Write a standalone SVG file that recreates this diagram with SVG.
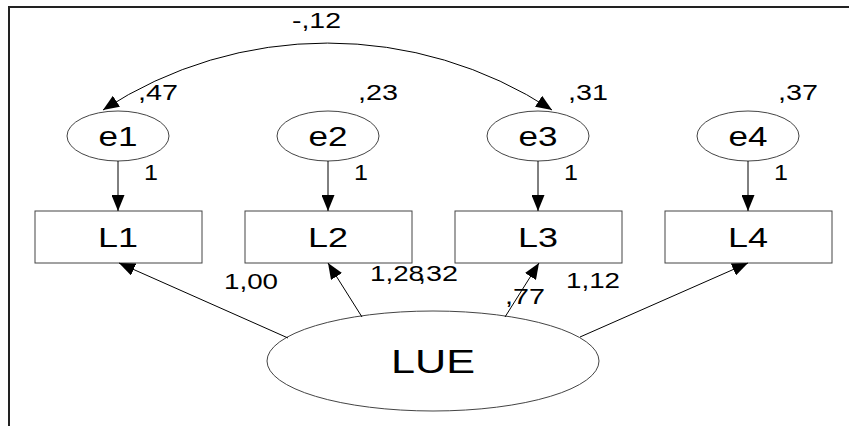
<svg xmlns="http://www.w3.org/2000/svg" width="849" height="426" viewBox="0 0 849 426">
  <defs>
    <marker id="arrow" viewBox="0 0 16 13" refX="16" refY="6.5" markerWidth="16" markerHeight="13" markerUnits="userSpaceOnUse" orient="auto">
      <path d="M0,0 L16,6.5 L0,13 Z" fill="#000"/>
    </marker>
    <marker id="arrowStart" viewBox="0 0 16 13" refX="0" refY="6.5" markerWidth="16" markerHeight="13" markerUnits="userSpaceOnUse" orient="auto">
      <path d="M16,0 L0,6.5 L16,13 Z" fill="#000"/>
    </marker>
  </defs>
  <style>
    .frame { fill: none; stroke: #222; stroke-width: 2; }
    .node { fill: #fff; stroke: #444; stroke-width: 1; }
    .edge { fill: none; stroke: #000; stroke-width: 1; }
    .lbl { font-family: "Liberation Sans", Arial, sans-serif; fill: #000; }
    .name { font-size: 27px; text-anchor: middle; }
    .big { font-size: 34px; text-anchor: middle; }
    .num { font-size: 22px; }
  </style>
  <rect width="849" height="426" fill="#fff"/>
  <path class="frame" d="M9,426 V7 H849"/>

  <!-- error terms -->
  <g id="e1"><ellipse class="node" cx="118" cy="136" rx="51" ry="25"/><text class="lbl name" x="118" y="146" textLength="39" lengthAdjust="spacingAndGlyphs">e1</text></g>
  <g id="e2"><ellipse class="node" cx="328" cy="136" rx="51" ry="25"/><text class="lbl name" x="328" y="146" textLength="39" lengthAdjust="spacingAndGlyphs">e2</text></g>
  <g id="e3"><ellipse class="node" cx="538" cy="136" rx="51" ry="25"/><text class="lbl name" x="538" y="146" textLength="39" lengthAdjust="spacingAndGlyphs">e3</text></g>
  <g id="e4"><ellipse class="node" cx="748" cy="136" rx="51" ry="25"/><text class="lbl name" x="748" y="146" textLength="39" lengthAdjust="spacingAndGlyphs">e4</text></g>

  <!-- observed indicators -->
  <g id="L1"><rect class="node" x="35" y="211" width="167" height="52"/><text class="lbl name" x="118" y="247" textLength="40" lengthAdjust="spacingAndGlyphs">L1</text></g>
  <g id="L2"><rect class="node" x="245" y="211" width="167" height="52"/><text class="lbl name" x="328" y="247" textLength="40" lengthAdjust="spacingAndGlyphs">L2</text></g>
  <g id="L3"><rect class="node" x="455" y="211" width="167" height="52"/><text class="lbl name" x="538" y="247" textLength="40" lengthAdjust="spacingAndGlyphs">L3</text></g>
  <g id="L4"><rect class="node" x="665" y="211" width="167" height="52"/><text class="lbl name" x="748" y="247" textLength="40" lengthAdjust="spacingAndGlyphs">L4</text></g>

  <!-- latent factor -->
  <g id="LUE"><ellipse class="node" cx="433" cy="361" rx="166" ry="50"/><text class="lbl big" x="433" y="373" textLength="84" lengthAdjust="spacingAndGlyphs">LUE</text></g>

  <g id="connectors">
    <path class="edge" d="M103,110 A410,410 0 0 1 552,110" marker-start="url(#arrowStart)" marker-end="url(#arrow)"/>
    <line class="edge" x1="118" y1="161" x2="118" y2="211" marker-end="url(#arrow)"/>
    <line class="edge" x1="328" y1="161" x2="328" y2="211" marker-end="url(#arrow)"/>
    <line class="edge" x1="538" y1="161" x2="538" y2="211" marker-end="url(#arrow)"/>
    <line class="edge" x1="748" y1="161" x2="748" y2="211" marker-end="url(#arrow)"/>
    <line class="edge" x1="288" y1="338" x2="119" y2="263" marker-end="url(#arrow)"/>
    <line class="edge" x1="362" y1="317" x2="328" y2="263" marker-end="url(#arrow)"/>
    <line class="edge" x1="505" y1="317" x2="539" y2="263" marker-end="url(#arrow)"/>
    <line class="edge" x1="580" y1="337" x2="748" y2="263" marker-end="url(#arrow)"/>
  </g>

  <g id="labels">
    <text class="lbl num" x="292" y="28" textLength="49" lengthAdjust="spacingAndGlyphs">-,12</text>
    <text class="lbl num" x="138" y="100" textLength="40" lengthAdjust="spacingAndGlyphs">,47</text>
    <text class="lbl num" x="358" y="100" textLength="40" lengthAdjust="spacingAndGlyphs">,23</text>
    <text class="lbl num" x="568" y="100" textLength="40" lengthAdjust="spacingAndGlyphs">,31</text>
    <text class="lbl num" x="778" y="100" textLength="40" lengthAdjust="spacingAndGlyphs">,37</text>
    <text class="lbl num" x="144" y="180" textLength="14" lengthAdjust="spacingAndGlyphs">1</text>
    <text class="lbl num" x="354" y="180" textLength="14" lengthAdjust="spacingAndGlyphs">1</text>
    <text class="lbl num" x="564" y="180" textLength="14" lengthAdjust="spacingAndGlyphs">1</text>
    <text class="lbl num" x="774" y="180" textLength="14" lengthAdjust="spacingAndGlyphs">1</text>
    <text class="lbl num" x="224" y="289" textLength="54" lengthAdjust="spacingAndGlyphs">1,00</text>
    <text class="lbl num" x="370" y="281" textLength="54" lengthAdjust="spacingAndGlyphs">1,28</text>
    <text class="lbl num" x="418" y="281" textLength="40" lengthAdjust="spacingAndGlyphs">,32</text>
    <text class="lbl num" x="505" y="304" textLength="40" lengthAdjust="spacingAndGlyphs">,77</text>
    <text class="lbl num" x="566" y="288" textLength="54" lengthAdjust="spacingAndGlyphs">1,12</text>
  </g>
</svg>
